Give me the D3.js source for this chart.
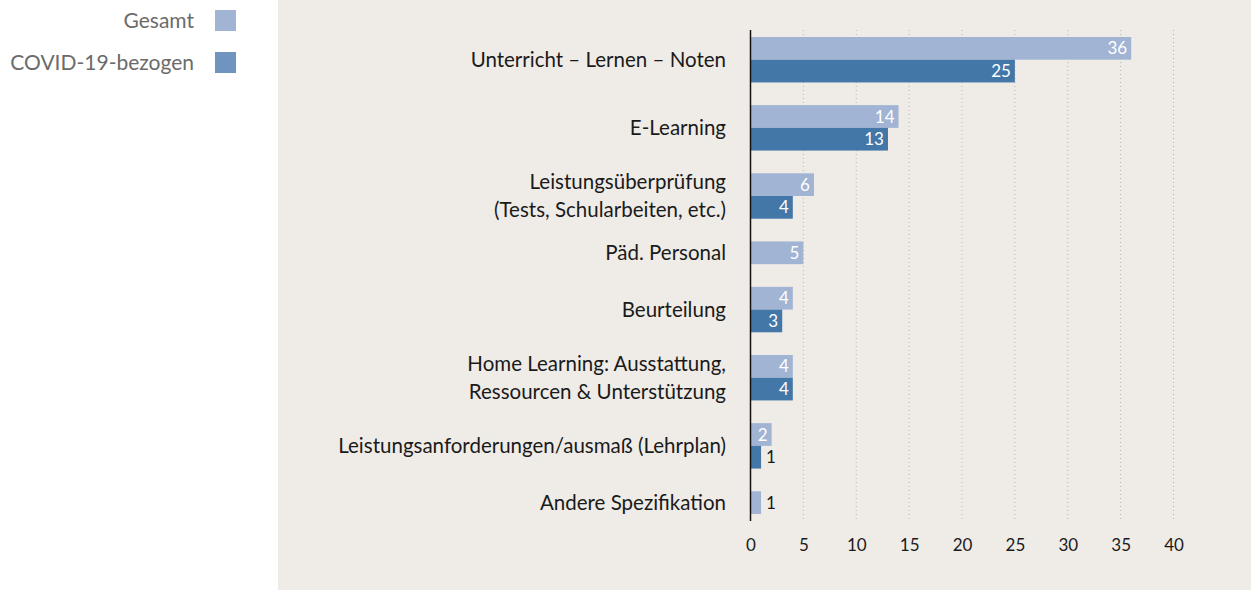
<!DOCTYPE html>
<html>
<head>
<meta charset="utf-8">
<script src="https://cdn.jsdelivr.net/npm/d3@7"></script>
<style>
  body { margin: 0; background: #fff; }
  svg { display: block; font-family: Lato, "Open Sans", sans-serif; }
</style>
</head>
<body>
<script>
// data
var categories = [
  "Unterricht – Lernen – Noten",
  "E-Learning",
  "Leistungsüberprüfung|(Tests, Schularbeiten, etc.)",
  "Päd. Personal",
  "Beurteilung",
  "Home Learning: Ausstattung,|Ressourcen & Unterstützung",
  "Leistungsanforderungen/ausmaß (Lehrplan)",
  "Andere Spezifikation"
];
var gesamt = [36, 14, 6, 5, 4, 4, 2, 1];
var covid = [25, 13, 4, 0, 3, 4, 1, 0];
var seriesNames = ["Gesamt", "COVID-19-bezogen"];
var xTicks = [0, 5, 10, 15, 20, 25, 30, 35, 40];

var colors = ["#a1b4d3", "#4377a7"];
var legendColors = ["#a1b4d3", "#6f94bf"];

var width = 1251, height = 590;

var svg = d3.select("body").append("svg")
  .attr("width", width)
  .attr("height", height);

// panel background
svg.append("rect")
  .attr("x", 278).attr("y", 0)
  .attr("width", width - 278).attr("height", height)
  .style("fill", "#efece8");

// build bar slots: one per non-zero value, one empty slot between categories
var slots = [], bars = [];
categories.forEach(function(c, i) {
  [gesamt[i], covid[i]].forEach(function(v, s) {
    if (v > 0) {
      var id = i + "-" + s;
      slots.push(id);
      bars.push({ id: id, cat: i, series: s, value: v });
    }
  });
  if (i < categories.length - 1) slots.push("gap" + i);
});

var x = d3.scaleLinear().domain([0, 40]).range([750.5, 1173.5]);
var y = d3.scaleBand().domain(slots).range([37, 514]);

var yTop = y.range()[0] - 7, yBottom = y.range()[1] + 7;

// dotted grid
svg.append("g").selectAll("line")
  .data(xTicks.slice(1))
  .enter().append("line")
    .attr("x1", function(d) { return x(d); })
    .attr("x2", function(d) { return x(d); })
    .attr("y1", yTop).attr("y2", yBottom)
    .style("stroke", "#b5b3b0")
    .style("stroke-width", 1)
    .style("stroke-dasharray", "1,3");

// bars
svg.append("g").selectAll("rect")
  .data(bars)
  .enter().append("rect")
    .attr("x", x(0))
    .attr("y", function(d) { return y(d.id); })
    .attr("width", function(d) { return x(d.value) - x(0); })
    .attr("height", y.bandwidth())
    .style("fill", function(d) { return colors[d.series]; });

// value labels
svg.append("g").selectAll("text")
  .data(bars)
  .enter().append("text")
    .attr("x", function(d) { return d.value > 1 ? x(d.value) - 4 : x(d.value) + 5; })
    .attr("y", function(d) { return y(d.id) + y.bandwidth() / 2; })
    .attr("dy", "0.36em")
    .attr("text-anchor", function(d) { return d.value > 1 ? "end" : "start"; })
    .style("font-size", "17px")
    .style("fill", function(d) { return d.value > 1 ? "#fff" : "#1a1a1a"; })
    .text(function(d) { return d.value; });

// axis line
svg.append("line")
  .attr("x1", x(0)).attr("x2", x(0))
  .attr("y1", yTop).attr("y2", yBottom)
  .style("stroke", "#111")
  .style("stroke-width", 1.5);

// x axis (labels only)
var xAxis = svg.append("g")
  .attr("transform", "translate(0," + yBottom + ")")
  .call(d3.axisBottom(x).tickValues(xTicks).tickSize(0).tickPadding(18));
xAxis.select(".domain").remove();
xAxis.selectAll("text")
  .style("font-family", "Lato, sans-serif")
  .style("font-size", "17px")
  .style("fill", "#1a1a1a");

// category labels
categories.forEach(function(c, i) {
  var ids = bars.filter(function(b) { return b.cat == i; }).map(function(b) { return b.id; });
  var cy = (y(ids[0]) + y(ids[ids.length - 1]) + y.bandwidth()) / 2;
  var lines = c.split("|");
  var t = svg.append("text")
    .attr("text-anchor", "end")
    .style("font-size", "20.5px")
    .style("fill", "#1a1a1a");
  lines.forEach(function(l, k) {
    t.append("tspan")
      .attr("x", 726)
      .attr("y", cy + (k - (lines.length - 1) / 2) * 28)
      .attr("dy", "0.35em")
      .text(l);
  });
});

// legend
var legend = svg.append("g").selectAll("g")
  .data(seriesNames)
  .enter().append("g")
    .attr("transform", function(d, i) { return "translate(0," + (10 + i * 42) + ")"; });

legend.append("rect")
  .attr("x", 215).attr("y", 0)
  .attr("width", 21).attr("height", 21)
  .style("fill", function(d, i) { return legendColors[i]; });

legend.append("text")
  .attr("x", 194).attr("y", 11)
  .attr("dy", "0.35em")
  .attr("text-anchor", "end")
  .style("font-size", "21px")
  .style("fill", "#6b6b6b")
  .text(function(d) { return d; });
</script>
</body>
</html>
